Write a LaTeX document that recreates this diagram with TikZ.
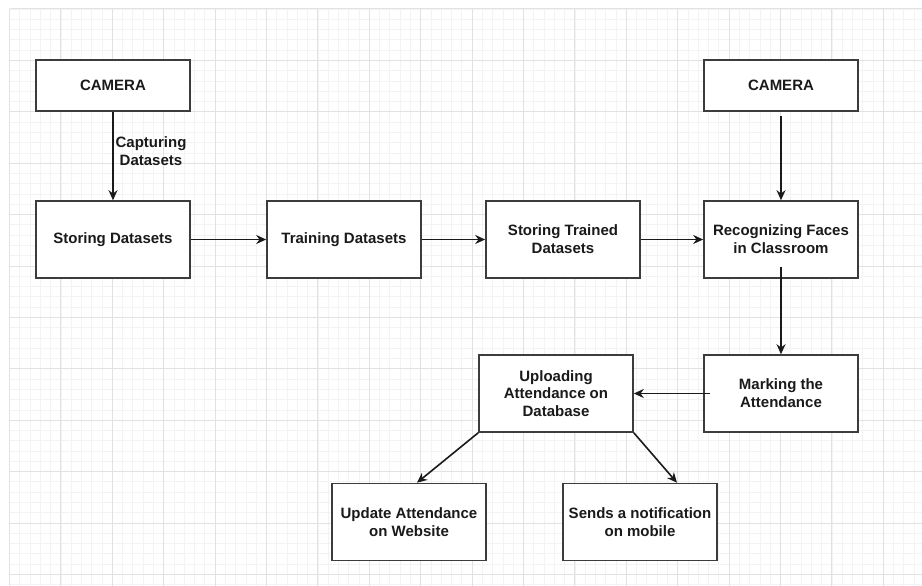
\documentclass[tikz,border=0pt]{standalone}
\usepackage{fontspec}
\setmainfont{Liberation Sans}
\usetikzlibrary{arrows.meta}
\definecolor{gridminor}{HTML}{F3F3F3}
\definecolor{gridmajor}{HTML}{E2E2E2}
\definecolor{ink}{HTML}{1A1A1A}
\tikzset{
  box/.style={draw=ink!85, line width=1.6pt, fill=white, minimum width=154pt, minimum height=77pt,
    inner sep=0pt, align=center, text=ink, font=\fontsize{15pt}{17.8pt}\selectfont\bfseries},
  smallbox/.style={box, minimum height=51pt},
  conn/.style={draw=ink, line width=1.6pt, -{Stealth[length=10pt,width=9pt]}},
  lbl/.style={align=center, text=ink, font=\fontsize{15pt}{17.8pt}\selectfont\bfseries, inner sep=0pt},
  gminor/.style={draw=gridminor, line width=0.8pt},
  gmajor/.style={draw=gridmajor, line width=1pt}
}
\begin{document}
\begin{tikzpicture}[x=1pt,y=-1pt]
\useasboundingbox (0,0) rectangle (922,586);
\fill[white] (0,0) rectangle (922,586);
% grid
\foreach \i in {0,...,88} {\draw[gminor] ({9.5+\i*10.28},9) -- ({9.5+\i*10.28},586);}
\foreach \j in {0,...,56} {\draw[gminor] (9.5,{9+\j*10.28}) -- (922,{9+\j*10.28});}
\foreach \i in {0,...,17} {\draw[gmajor] ({9.5+\i*51.4},9) -- ({9.5+\i*51.4},586);}
\foreach \j in {0,...,11} {\draw[gmajor] (9.5,{9+\j*51.4}) -- (922,{9+\j*51.4});}
% nodes
\node[smallbox] (cam1) at (113,85.5) {CAMERA};
\node[box] (store) at (113,239.5) {Storing Datasets};
\node[box] (train) at (344,239.5) {Training Datasets};
\node[box] (trained) at (563,239.5) {Storing Trained\\Datasets};
\node[box] (rec) at (781,239.5) {Recognizing Faces\\in Classroom};
\node[smallbox] (cam2) at (781,85.5) {CAMERA};
\node[box] (mark) at (781,393.5) {Marking the\\Attendance};
\node[box] (upload) at (556,393.5) {Uploading\\Attendance on\\Database};
\node[box] (web) at (409,522) {Update Attendance\\on Website};
\node[box] (notif) at (640,522) {Sends a notification\\on mobile};
% connectors
\draw[conn] (cam1.south) -- (store.north);
\node[lbl] (caplbl) at (151,151) {Capturing\\Datasets};
\draw[conn] (store.east) -- (train.west);
\draw[conn] (train.east) -- (trained.west);
\draw[conn] (trained.east) -- (rec.west);
\draw[conn] ([yshift=-4pt]cam2.south) -- (rec.north);
\draw[conn] ([yshift=12pt]rec.south) -- (mark.north);
\draw[conn] ([xshift=7pt]mark.west) -- (upload.east);
\draw[conn] (upload.south west) -- ([xshift=8pt]web.north);
\draw[conn] (upload.south east) -- ([xshift=37pt]notif.north);
\end{tikzpicture}
\end{document}
